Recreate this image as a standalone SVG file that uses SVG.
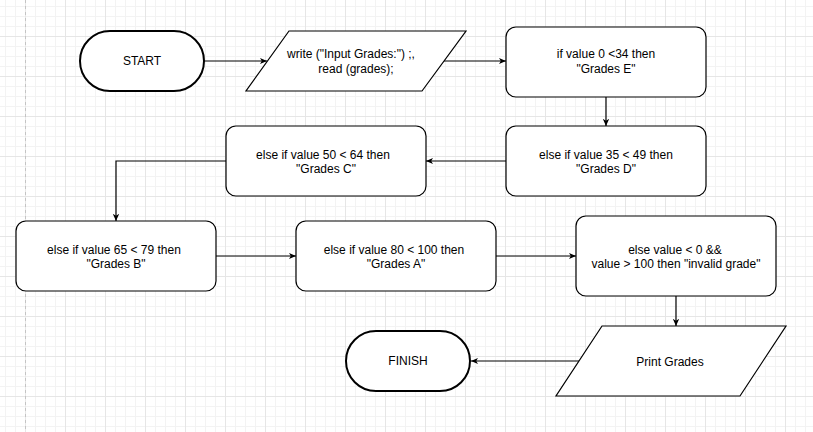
<svg xmlns="http://www.w3.org/2000/svg" width="813" height="432" viewBox="0 0 813 432">
<defs>
<pattern id="grid" x="25" y="36" width="40" height="40" patternUnits="userSpaceOnUse">
<path d="M10.5,0V40M20.5,0V40M30.5,0V40M0,10.5H40M0,20.5H40M0,30.5H40" stroke="#f3f3f3" stroke-width="1" fill="none"/>
<path d="M0.5,0V40M0,0.5H40" stroke="#e6e6e6" stroke-width="1" fill="none"/>
</pattern>
<marker id="arr" viewBox="0 0 10 10" refX="9" refY="5" markerWidth="8" markerHeight="8" markerUnits="userSpaceOnUse" orient="auto">
<path d="M0,1 L9,5 L0,9 L2.5,5 z" fill="#000"/>
</marker>
</defs>
<style>
.box{fill:#fff;stroke:#000;stroke-width:1.2}
.term{fill:#fff;stroke:#000;stroke-width:2}
.edge{fill:none;stroke:#000;stroke-width:1.2;marker-end:url(#arr)}
text{font-family:"Liberation Sans",Arial,Helvetica,sans-serif;font-size:12px;fill:#000;text-anchor:middle}
</style>
<rect width="813" height="432" fill="#fff"/>
<rect width="813" height="432" fill="url(#grid)"/>
<line x1="25.5" y1="0" x2="25.5" y2="432" stroke="#c4c4c4" stroke-width="1" stroke-dasharray="3,3"/>

<g id="connectors">
<path class="edge" d="M204,61 H267"/>
<path class="edge" d="M444,61 H506"/>
<path class="edge" d="M606,97 V126"/>
<path class="edge" d="M506,161 H426"/>
<path class="edge" d="M226,161 H116 V221"/>
<path class="edge" d="M216,256 H296"/>
<path class="edge" d="M496,256 H576"/>
<path class="edge" d="M676,296 V326"/>
<path class="edge" d="M579,361 H471"/>
</g>

<g id="start">
<rect class="term" x="80" y="31" width="124" height="60" rx="30" ry="30"/>
<text x="142" y="65">START</text>
</g>
<g id="input">
<polygon class="box" points="289,31 466,31 422,91 246,91"/>
<text x="351" y="58">write ("Input Grades:") ;,</text>
<text x="356" y="73">read (grades);</text>
</g>
<g id="gradeE">
<rect class="box" x="506" y="27" width="200" height="70" rx="10" ry="10"/>
<text x="606" y="58">if value 0 &lt;34 then</text>
<text x="606" y="73">"Grades E"</text>
</g>
<g id="gradeD">
<rect class="box" x="506" y="126" width="200" height="70" rx="10" ry="10"/>
<text x="606" y="159">else if value 35 &lt; 49 then</text>
<text x="606" y="173">"Grades D"</text>
</g>
<g id="gradeC">
<rect class="box" x="226" y="126" width="200" height="70" rx="10" ry="10"/>
<text x="323" y="159">else if value 50 &lt; 64 then</text>
<text x="326" y="173">"Grades C"</text>
</g>
<g id="gradeB">
<rect class="box" x="16" y="221" width="200" height="70" rx="10" ry="10"/>
<text x="114" y="254">else if value 65 &lt; 79 then</text>
<text x="116" y="268">"Grades B"</text>
</g>
<g id="gradeA">
<rect class="box" x="296" y="221" width="200" height="70" rx="10" ry="10"/>
<text x="394" y="254">else if value 80 &lt; 100 then</text>
<text x="396" y="268">"Grades A"</text>
</g>
<g id="invalid">
<rect class="box" x="576" y="216" width="200" height="80" rx="10" ry="10"/>
<text x="675" y="254">else value &lt; 0 &amp;&amp;</text>
<text x="676" y="268">value &gt; 100 then "invalid grade"</text>
</g>
<g id="print">
<polygon class="box" points="602,326 786,326 740,396 556,396"/>
<text x="670" y="366">Print Grades</text>
</g>
<g id="finish">
<rect class="term" x="346" y="331" width="124" height="60" rx="30" ry="30"/>
<text x="408" y="365">FINISH</text>
</g>
</svg>
